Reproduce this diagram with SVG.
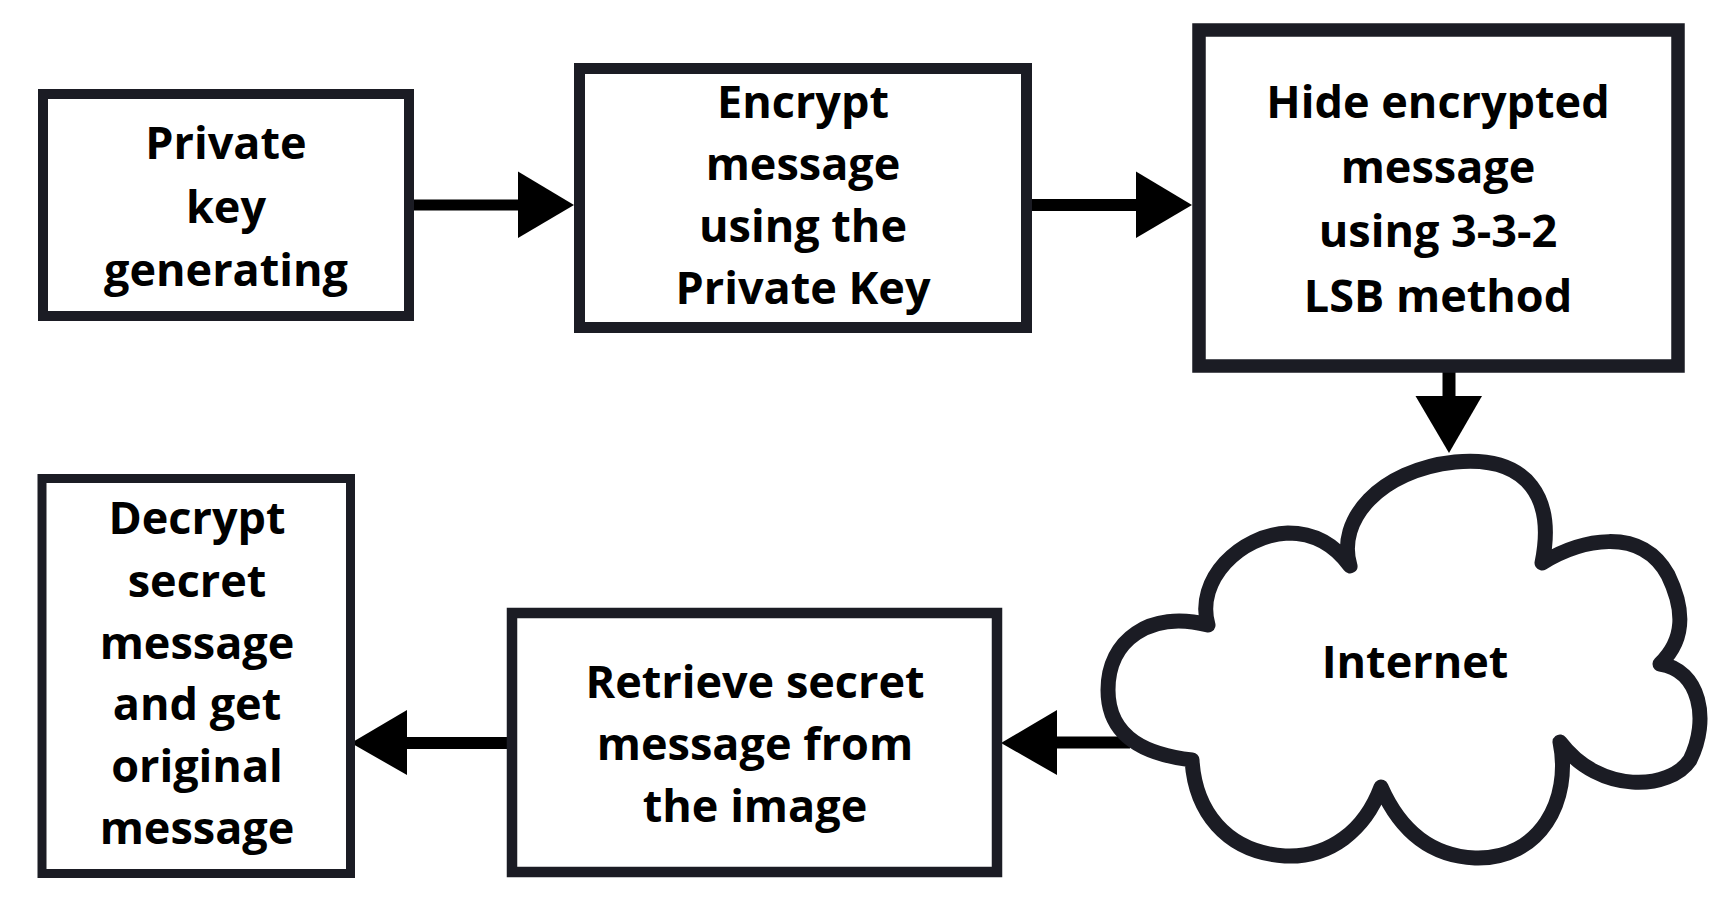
<svg xmlns="http://www.w3.org/2000/svg" width="1727" height="901" viewBox="0 0 1727 901">
<style>
.box{fill:#ffffff;stroke:#1b1c24}
.lbl{font-family:"Open Sans","Liberation Sans",sans-serif;font-weight:700;font-size:45px;fill:#000;text-anchor:middle}
.ln{stroke:#000;fill:none}
.hd{fill:#000;stroke:none}
</style>
<rect width="1727" height="901" fill="#ffffff"/>
<g id="connectors">
<line class="ln" x1="414" y1="205" x2="520" y2="205" stroke-width="11"/>
<polygon class="hd" points="518,171.5 574,205 518,238"/>
<line class="ln" x1="1032" y1="205" x2="1138" y2="205" stroke-width="12"/>
<polygon class="hd" points="1136,171.5 1192,205 1136,238"/>
<line class="ln" x1="1449" y1="366" x2="1449" y2="398" stroke-width="13"/>
<polygon class="hd" points="1415.5,396 1482,396 1449,453"/>
<line class="ln" x1="1130" y1="742.5" x2="1055" y2="742.5" stroke-width="12"/>
<polygon class="hd" points="1057,710 1001,743 1057,775"/>
<line class="ln" x1="508" y1="743" x2="405" y2="743" stroke-width="12"/>
<polygon class="hd" points="407,710 351,743 407,775"/>
</g>
<g id="node-private-key">
<rect class="box" x="43" y="94" width="366" height="222" stroke-width="10"/>
<text class="lbl"><tspan x="226" y="159">Private</tspan><tspan x="226" y="222.5">key</tspan><tspan x="226" y="286">generating</tspan></text>
</g>
<g id="node-encrypt">
<rect class="box" x="579.5" y="68.5" width="447" height="259" stroke-width="11"/>
<text class="lbl"><tspan x="803" y="118">Encrypt</tspan><tspan x="803" y="180">message</tspan><tspan x="803" y="242">using the</tspan><tspan x="803" y="304">Private Key</tspan></text>
</g>
<g id="node-hide">
<rect class="box" x="1199" y="30" width="479" height="336" stroke-width="13.5"/>
<text class="lbl"><tspan x="1438" y="118">Hide encrypted</tspan><tspan x="1438" y="183">message</tspan><tspan x="1438" y="247">using 3-3-2</tspan><tspan x="1438" y="311.5">LSB method</tspan></text>
</g>
<g id="node-internet">
<path d="M 1350 566 C 1336 520, 1380 470, 1455 462 C 1530 455, 1555 500, 1542 563 C 1580 540, 1640 525, 1668 575 C 1685 610, 1685 640, 1660 664 C 1700 670, 1710 720, 1690 760 C 1670 790, 1600 795, 1560 742 C 1572 800, 1540 860, 1475 858 C 1430 856, 1400 830, 1381 787 C 1365 830, 1330 858, 1285 856 C 1225 852, 1195 810, 1192 760 C 1150 755, 1108 740, 1108 690 C 1108 640, 1150 610, 1208 625 C 1195 580, 1240 535, 1288 533 C 1315 533, 1335 545, 1350 566 Z" fill="#ffffff" stroke="#1b1c24" stroke-width="15" stroke-linejoin="round"/>
<text class="lbl" x="1415" y="678">Internet</text>
</g>
<g id="node-retrieve">
<rect class="box" x="512" y="613" width="485" height="259" stroke-width="10.5"/>
<text class="lbl"><tspan x="755" y="698">Retrieve secret</tspan><tspan x="755" y="760">message from</tspan><tspan x="755" y="822">the image</tspan></text>
</g>
<g id="node-decrypt">
<rect class="box" x="42" y="478.5" width="308.5" height="395" stroke-width="9"/>
<text class="lbl"><tspan x="197" y="534">Decrypt</tspan><tspan x="197" y="596.5">secret</tspan><tspan x="197" y="658.5">message</tspan><tspan x="197" y="720">and get</tspan><tspan x="197" y="782">original</tspan><tspan x="197" y="843.5">message</tspan></text>
</g>
</svg>
